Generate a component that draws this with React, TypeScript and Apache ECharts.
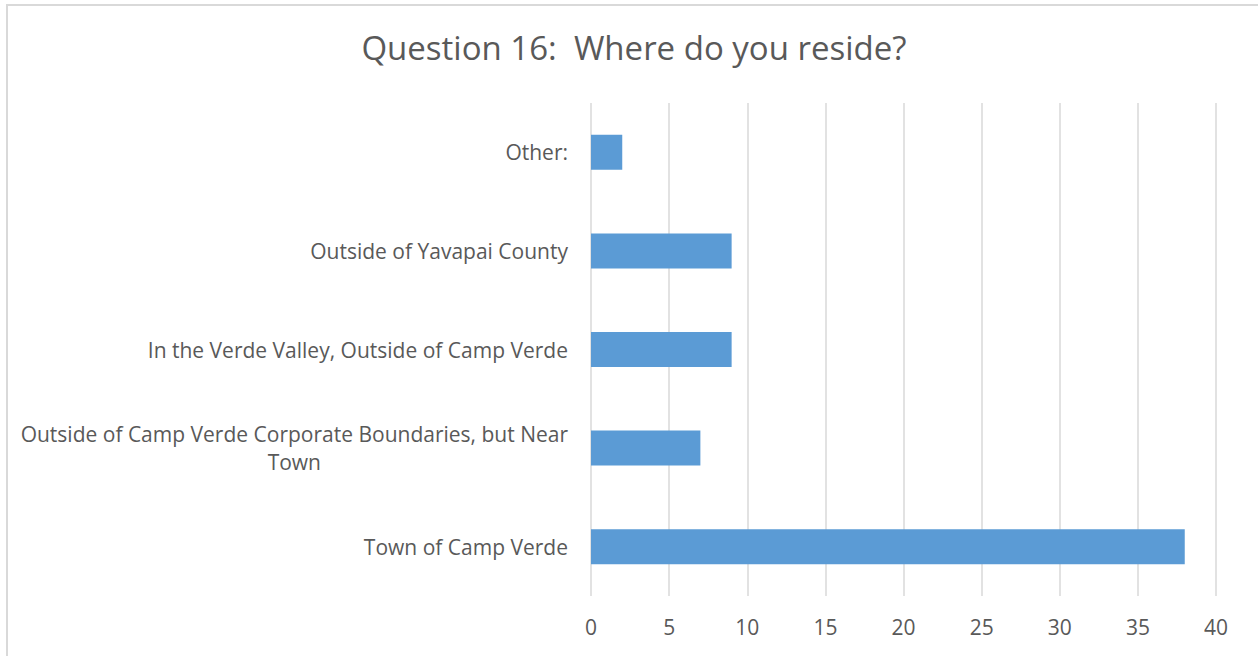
import React, { useEffect, useRef } from "react";
import * as echarts from "echarts";

const categories = [
  "Town of Camp Verde",
  "Outside of Camp Verde Corporate Boundaries, but Near Town",
  "In the Verde Valley, Outside of Camp Verde",
  "Outside of Yavapai County",
  "Other:",
];
const values = [38, 7, 9, 9, 2];
const xTicks = { min: 0, max: 40, interval: 5 };
const titleText = "Question 16:  Where do you reside?";

const FONT = "'Open Sans', 'Noto Sans', sans-serif";
const TEXT = "#595959";

export default function App() {
  const ref = useRef<HTMLDivElement>(null);
  useEffect(() => {
    if (!ref.current) return;
    const chart = echarts.init(ref.current, undefined, { renderer: "svg" });
    chart.setOption({
      animation: false,
      title: {
        text: titleText,
        left: 629,
        top: 26,
        textAlign: "center",
        textStyle: { fontFamily: FONT, fontSize: 33, fontWeight: "normal", color: TEXT },
      },
      grid: { left: 591, right: 42, top: 103, bottom: 60, containLabel: false },
      xAxis: {
        type: "value",
        min: xTicks.min,
        max: xTicks.max,
        interval: xTicks.interval,
        axisLine: { show: false },
        axisTick: { show: false },
        splitLine: { show: true, lineStyle: { color: "#d9d9d9", width: 1.5 } },
        axisLabel: { fontFamily: FONT, fontSize: 21, color: TEXT, margin: 20 },
      },
      yAxis: {
        type: "category",
        data: categories,
        axisLine: { show: false },
        axisTick: { show: false },
        axisLabel: {
          fontFamily: FONT,
          fontSize: 21,
          color: TEXT,
          margin: 23,
          formatter: (v: string) => {
            if (v.length > 45) {
              const idx = v.lastIndexOf(" ");
              return "{c|" + v.slice(0, idx) + "}\n{c|" + v.slice(idx + 1) + "}";
            }
            return v;
          },
          rich: {
            c: { fontFamily: FONT, fontSize: 21, color: TEXT, align: "center", lineHeight: 28 },
          },
        },
      },
      series: [
        {
          type: "bar",
          data: values,
          barWidth: 35,
          itemStyle: { color: "#5B9BD5" },
        },
      ],
    });
    return () => chart.dispose();
  }, []);
  return (
    <div style={{ position: "fixed", left: 0, top: 0, width: 1258, height: 656, background: "#fff" }}>
      <div style={{ position: "absolute", left: 6, top: 4, width: 1258, height: 660, border: "2px solid #d9d9d9", boxSizing: "border-box" }} />
      <div ref={ref} style={{ position: "absolute", left: 0, top: 0, width: 1258, height: 656 }} />
    </div>
  );
}
